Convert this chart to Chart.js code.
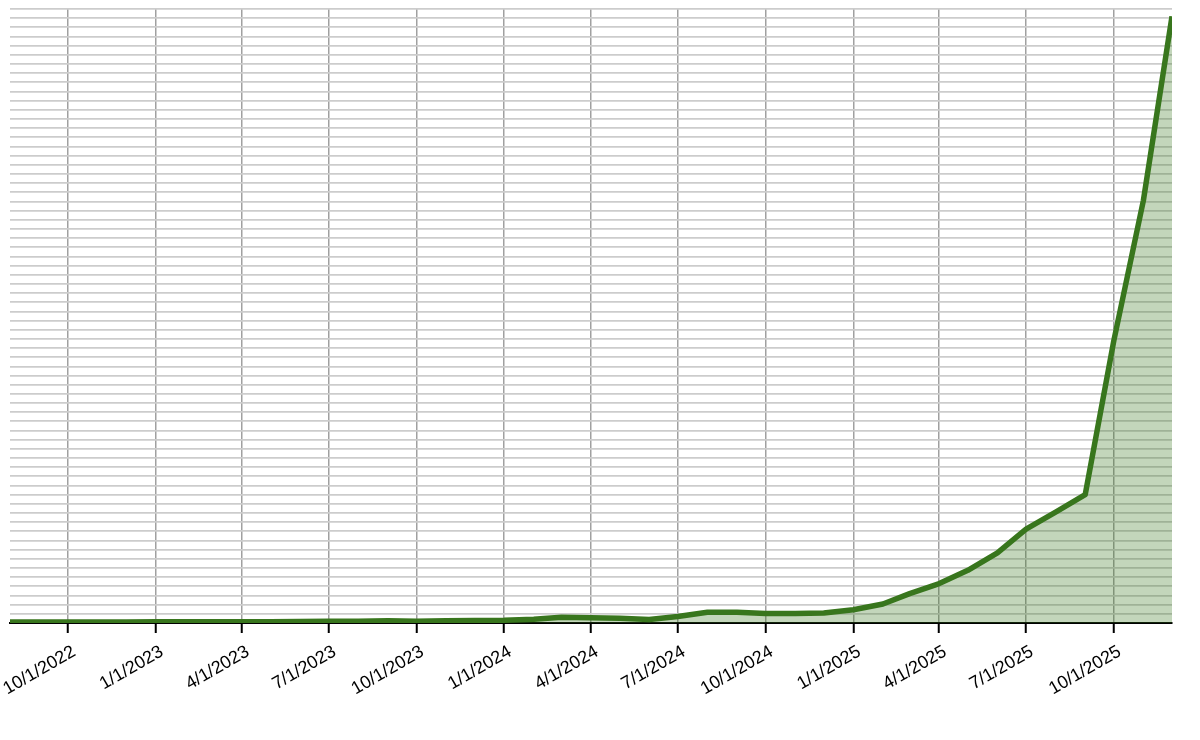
<!DOCTYPE html>
<html>
<head>
<meta charset="utf-8">
<title>Growth chart</title>
<script src="https://cdn.jsdelivr.net/npm/chart.js@4.4.1/dist/chart.umd.min.js"></script>
<style>
    html, body { margin: 0; padding: 0; background: #fff; }
    #chart { display: block; }
</style>
</head>
<body>
<canvas id="chart" width="1200" height="740"></canvas>
<script>
// monthly data points (first of each month)
const months = [
    '8/1/2022', '9/1/2022', '10/1/2022', '11/1/2022', '12/1/2022',
    '1/1/2023', '2/1/2023', '3/1/2023', '4/1/2023', '5/1/2023', '6/1/2023',
    '7/1/2023', '8/1/2023', '9/1/2023', '10/1/2023', '11/1/2023', '12/1/2023',
    '1/1/2024', '2/1/2024', '3/1/2024', '4/1/2024', '5/1/2024', '6/1/2024',
    '7/1/2024', '8/1/2024', '9/1/2024', '10/1/2024', '11/1/2024', '12/1/2024',
    '1/1/2025', '2/1/2025', '3/1/2025', '4/1/2025', '5/1/2025', '6/1/2025',
    '7/1/2025', '8/1/2025', '9/1/2025', '10/1/2025', '11/1/2025', '12/1/2025'
];

const values = [
    0.10, 0.10, 0.10, 0.11, 0.12,
    0.13, 0.13, 0.14, 0.15, 0.15, 0.16,
    0.18, 0.20, 0.24, 0.20, 0.24, 0.27,
    0.30, 0.42, 0.62, 0.58, 0.52, 0.38,
    0.72, 1.17, 1.18, 1.05, 1.05, 1.10,
    1.45, 2.07, 3.20, 4.30, 5.75, 7.65,
    10.25, 12.10, 14.00, 30.80, 46.10, 66.20
];

// quarterly ticks on the x axis
const tickLabels = [
    '10/1/2022', '1/1/2023', '4/1/2023', '7/1/2023', '10/1/2023',
    '1/1/2024', '4/1/2024', '7/1/2024', '10/1/2024',
    '1/1/2025', '4/1/2025', '7/1/2025', '10/1/2025'
];

// y grid: one line per unit
const yMax = 67;
const yStep = 1;

const toDay = (s) => {
    const [m, d, y] = s.split('/').map(Number);
    return Date.UTC(y, m - 1, d) / 86400000;
};
const fromDay = (n) => {
    const dt = new Date(Math.round(n) * 86400000);
    return `${dt.getUTCMonth() + 1}/${dt.getUTCDate()}/${dt.getUTCFullYear()}`;
};

const points = months.map((m, i) => ({ x: toDay(m), y: values[i] }));
const tickDays = tickLabels.map(toDay);

const lineColor = '#38761d';

new Chart(document.getElementById('chart'), {
    type: 'line',
    data: {
        datasets: [{
            data: points,
            borderColor: lineColor,
            backgroundColor: 'rgba(56, 118, 29, 0.3)',
            borderWidth: 5.5,
            borderJoinStyle: 'round',
            pointRadius: 0,
            tension: 0,
            fill: 'origin'
        }]
    },
    options: {
        responsive: false,
        animation: false,
        layout: {
            padding: { left: 10, right: 28, top: 9, bottom: 0 }
        },
        plugins: {
            legend: { display: false },
            tooltip: { enabled: false }
        },
        scales: {
            x: {
                type: 'linear',
                min: toDay(months[0]),
                max: toDay(months[months.length - 1]),
                afterBuildTicks: (scale) => {
                    scale.ticks = tickDays.map(v => ({ value: v }));
                },
                afterFit: (scale) => {
                    scale.height = 117;
                    scale.paddingLeft = 0;
                    scale.paddingRight = 0;
                },
                ticks: {
                    autoSkip: false,
                    minRotation: 30,
                    maxRotation: 30,
                    padding: 8,
                    labelOffset: 6,
                    color: '#000',
                    font: { family: '"Liberation Sans", Arial, sans-serif', size: 18 },
                    callback: (v) => fromDay(v)
                },
                grid: {
                    color: '#a0a0a0',
                    lineWidth: 1.5,
                    tickColor: '#000',
                    tickLength: 10,
                    tickWidth: 2
                },
                border: { color: '#000', width: 2 }
            },
            y: {
                min: 0,
                max: yMax,
                ticks: {
                    stepSize: yStep,
                    display: false
                },
                grid: {
                    color: '#cccccc',
                    lineWidth: 1.8,
                    drawTicks: false
                },
                border: { display: false }
            }
        }
    }
});
</script>
</body>
</html>
